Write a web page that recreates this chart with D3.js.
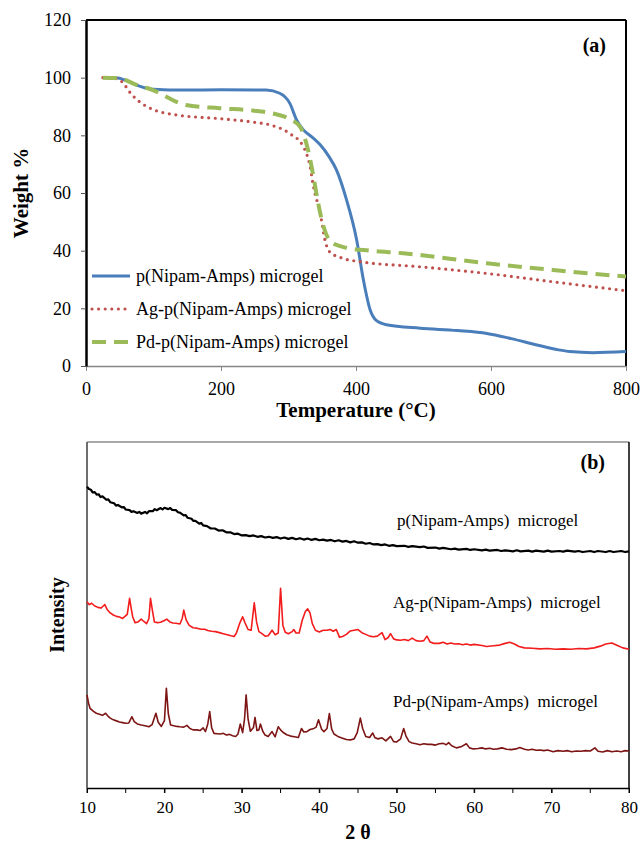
<!DOCTYPE html>
<html>
<head>
<meta charset="utf-8">
<script src="https://cdn.jsdelivr.net/npm/d3@7"></script>
<style>
  html, body { margin: 0; padding: 0; background: #fff; }
  svg { display: block; font-family: "Liberation Serif", "Times New Roman", serif; }
</style>
</head>
<body>
<svg id="fig" width="642" height="843"></svg>
<script>
// ---- (a) TGA: temperature (°C) vs weight % ----
const tgaTicksX = [0, 200, 400, 600, 800];
const tgaTicksY = [0, 20, 40, 60, 80, 100, 120];
const tgaNames = ["p(Nipam-Amps) microgel", "Ag-p(Nipam-Amps) microgel", "Pd-p(Nipam-Amps) microgel"];

const tgaPlain = [[25,100],[44,100],[60,99],[74,97.5],[99,96],[148,95.7],[200,95.8],[267,95.7],[287,94.6],[302,91.1],[312,85.3],[322,81.9],[335,79.4],[347,76.7],[360,72.6],[371,68],[386,57.6],[401,43.7],[411,29.8],[421,19.4],[430,15.8],[445,14.3],[495,13.1],[550,12.3],[594,11.3],[630,9.5],[668,7.3],[700,5.6],[717,5],[751,4.6],[800,5]];
const tgaAg = [[25,100],[44,99.7],[55,98.2],[64,95.2],[79,91.7],[99,89],[133,87.1],[198,85.8],[247,84.6],[273,83.6],[302,80.6],[322,76.1],[332,69.1],[337,62.2],[347,53],[354,43.7],[361,39.6],[381,37.3],[406,36.2],[495,34.4],[594,32.1],[692,29.2],[800,26.1]];
const tgaPd = [[25,100],[49,99.8],[75,97.5],[99,95.7],[119,93.4],[135,91.5],[148,90.5],[198,89.4],[247,88.6],[273,87.8],[302,85.6],[317,83],[329,74.9],[337,65.7],[344,56.4],[352,48.3],[364,42.8],[386,41],[420,40],[470,39.1],[594,35.6],[692,33.3],[800,31]];

// ---- (b) XRD: 2θ vs intensity (arbitrary units, traces offset) ----
const xrdTicks = [10, 20, 30, 40, 50, 60, 70, 80];
const xrdMinor = [10, 15, 20, 25, 30, 35, 40, 45, 50, 55, 60, 65, 70, 75, 80];
const xrdNames = ["p(Nipam-Amps)  microgel", "Ag-p(Nipam-Amps)  microgel", "Pd-p(Nipam-Amps)  microgel"];

const xrdPlain = [[10,87.1],[10.25,86.4],[10.5,86.2],[10.75,85.4],[11,85.5],[11.25,84.8],[11.5,84.9],[11.75,84.1],[12,84.3],[12.5,83.3],[12.75,83.4],[13,82.6],[13.5,82.3],[13.75,81.6],[14,81.8],[14.5,81.1],[14.75,81.2],[15,80.5],[15.5,80.3],[15.75,79.8],[16,80.0],[16.5,79.5],[16.75,79.8],[17,79.3],[17.5,79.8],[17.75,79.4],[18,80.0],[18.5,80.0],[18.75,80.6],[19,80.3],[19.5,80.9],[19.75,80.5],[20,81.0],[20.5,80.6],[20.75,80.9],[21,80.4],[21.5,80.3],[21.75,79.7],[22,79.6],[22.5,78.8],[22.75,78.9],[23,78.1],[23.5,77.8],[23.75,77.2],[24,77.2],[24.5,76.4],[24.75,76.6],[25,75.9],[25.5,75.7],[26,75.0],[26.5,75.0],[27,74.4],[27.5,74.5],[28,73.9],[28.5,73.9],[29,73.4],[29.5,73.5],[30,73.0],[30.5,73.1],[31,72.8],[31.5,73.0],[32,72.6],[32.5,72.8],[33,72.4],[33.5,72.6],[34,72.3],[34.5,72.5],[35,72.1],[35.5,72.4],[36,72.0],[36.5,72.3],[37,71.9],[37.5,72.2],[38,71.8],[38.5,72.1],[39,71.7],[39.5,72.0],[40,71.6],[40.5,71.8],[41,71.5],[41.5,71.7],[42,71.3],[42.5,71.6],[43,71.2],[43.5,71.4],[44,71.0],[44.5,71.3],[45,70.9],[45.5,71.0],[46,70.6],[46.5,70.8],[47,70.4],[47.5,70.5],[48,70.2],[48.5,70.4],[49,70.0],[49.5,70.2],[50,69.9],[51,70.0],[51.5,69.7],[52,69.9],[53,69.6],[53.5,69.8],[54,69.4],[55,69.5],[55.5,69.2],[56,69.4],[57,69.0],[57.5,69.2],[58,68.9],[59,69.1],[59.5,68.8],[60,69.0],[61,68.7],[61.5,68.9],[62,68.6],[63,68.8],[63.5,68.5],[64,68.7],[65,68.4],[65.5,68.7],[66,68.4],[67,68.6],[67.5,68.3],[68,68.6],[69,68.3],[69.5,68.6],[70,68.3],[71,68.5],[71.5,68.3],[72,68.6],[73,68.3],[73.5,68.5],[74,68.2],[75,68.5],[75.5,68.2],[76,68.5],[77,68.2],[77.5,68.5],[78,68.2],[79,68.5],[79.5,68.2],[80,68.4]];

const xrdAg = [[10.0,53.8],[10.3,53.0],[10.6,53.4],[11.0,52.6],[11.4,52.2],[11.8,52.0],[12.1,52.6],[12.3,53.0],[12.6,51.6],[13.0,50.6],[13.4,50.0],[13.8,49.6],[14.2,49.4],[14.6,49.0],[14.9,49.6],[15.2,50.2],[15.5,54.8],[15.7,52.0],[15.9,49.5],[16.2,47.8],[16.6,48.0],[17.0,48.8],[17.3,48.2],[17.7,47.5],[18.0,49.0],[18.2,54.8],[18.4,52.0],[18.7,48.0],[19.1,47.8],[19.5,47.9],[20.0,48.4],[20.3,48.8],[20.7,48.0],[21.1,47.7],[21.5,47.6],[22.0,47.4],[22.3,49.0],[22.5,51.4],[22.8,48.6],[23.2,47.0],[23.7,46.3],[24.2,46.2],[24.7,45.9],[25.2,45.9],[25.6,45.5],[26.1,45.3],[26.6,45.2],[27.1,44.9],[27.6,44.6],[28.1,44.3],[28.6,44.0],[29.0,43.8],[29.3,44.8],[29.7,47.5],[30.1,49.5],[30.4,47.8],[30.8,45.8],[31.2,45.6],[31.6,53.5],[31.9,48.0],[32.2,45.2],[32.6,44.6],[33.0,43.9],[33.4,44.0],[33.9,45.6],[34.3,44.3],[34.7,44.8],[35.0,57.7],[35.3,47.0],[35.6,45.0],[36.0,44.6],[36.5,45.2],[36.7,45.8],[37.0,44.8],[37.4,44.8],[37.8,48.5],[38.2,51.0],[38.5,51.8],[38.8,50.6],[39.1,47.5],[39.5,45.6],[40.0,45.1],[40.5,45.6],[41.0,45.6],[41.4,45.8],[41.8,45.3],[42.2,45.8],[42.6,43.6],[43.0,43.8],[43.5,44.4],[44.0,45.4],[44.5,45.6],[45.0,45.8],[45.5,44.9],[46.0,44.4],[46.5,43.9],[47.0,43.7],[47.5,43.9],[48.1,44.9],[48.5,42.9],[48.9,43.5],[49.2,44.6],[49.6,43.1],[50.0,42.8],[50.5,42.7],[51.0,42.9],[51.5,42.6],[52.0,43.3],[52.5,42.6],[53.0,42.4],[53.5,42.6],[53.9,43.9],[54.3,42.2],[54.8,41.8],[55.5,41.8],[56.0,42.1],[56.5,41.6],[57.0,41.9],[57.5,41.6],[58.0,41.7],[58.5,41.4],[59.0,41.6],[59.5,41.3],[60.0,41.5],[61.0,41.2],[61.6,40.9],[62.5,41.1],[63.3,41.3],[64.0,41.8],[64.6,42.1],[65.2,41.6],[65.8,40.9],[66.5,40.5],[67.5,40.4],[68.5,40.2],[69.5,40.3],[70.5,40.1],[71.5,40.2],[72.5,40.1],[73.5,40.3],[74.5,40.2],[75.5,40.5],[76.3,41.0],[77.0,41.6],[77.8,41.9],[78.5,41.2],[79.2,40.5],[80.0,40.1]];

const xrdPd = [[10.0,26.9],[10.2,24.5],[10.4,23.0],[10.8,22.2],[11.2,21.6],[11.6,21.3],[12.0,21.0],[12.4,21.6],[12.7,20.8],[13.0,20.2],[13.4,19.7],[13.8,19.4],[14.2,19.1],[14.6,18.9],[15.0,18.7],[15.4,18.8],[15.8,20.6],[16.1,19.2],[16.5,18.5],[17.0,18.2],[17.5,18.0],[18.0,17.7],[18.4,18.3],[18.9,21.6],[19.2,19.0],[19.6,17.8],[20.0,19.5],[20.25,28.8],[20.5,21.5],[20.8,18.2],[21.2,18.0],[21.6,17.8],[22.0,17.7],[22.5,17.6],[22.9,18.1],[23.3,17.2],[23.7,16.8],[24.2,16.8],[24.6,16.6],[25.0,17.4],[25.3,16.3],[25.6,18.5],[25.85,22.1],[26.1,17.4],[26.4,15.8],[26.8,15.7],[27.2,15.6],[27.6,15.8],[28.0,15.3],[28.4,15.5],[28.8,15.1],[29.2,14.9],[29.5,15.6],[29.8,18.5],[30.1,16.0],[30.35,20.0],[30.55,26.9],[30.8,20.0],[31.1,16.4],[31.5,17.5],[31.7,20.4],[31.95,16.6],[32.2,16.8],[32.4,18.5],[32.7,16.4],[33.0,15.3],[33.4,14.9],[33.9,16.3],[34.3,14.8],[34.7,17.7],[35.0,16.8],[35.3,16.1],[35.8,15.4],[36.3,15.0],[36.8,14.8],[37.3,14.6],[37.7,17.2],[38.0,16.2],[38.4,16.3],[38.8,16.9],[39.2,17.1],[39.6,17.6],[39.9,19.7],[40.3,17.0],[40.6,16.3],[41.0,17.2],[41.3,21.5],[41.6,17.0],[41.9,15.6],[42.4,14.9],[43.0,14.4],[43.5,14.0],[44.0,13.9],[44.5,14.2],[44.9,16.0],[45.3,20.2],[45.6,17.2],[46.0,14.9],[46.5,14.6],[46.9,15.9],[47.2,14.5],[47.6,14.2],[48.1,14.5],[48.6,13.6],[49.2,14.9],[49.6,13.4],[50.0,13.3],[50.5,14.2],[50.9,17.2],[51.2,15.0],[51.6,13.4],[52.0,13.0],[52.5,12.8],[53.0,12.5],[53.5,12.8],[54.0,12.6],[54.5,12.6],[55.0,12.4],[55.5,12.8],[56.0,12.9],[56.4,12.5],[56.7,13.1],[57.1,12.2],[57.7,11.6],[58.3,11.9],[59.0,12.8],[59.4,11.6],[59.9,11.3],[60.5,11.4],[61.0,11.6],[61.5,11.3],[62.0,11.5],[62.5,11.2],[63.0,11.3],[63.6,11.6],[64.2,11.2],[64.8,11.1],[65.4,11.3],[65.9,11.7],[66.5,11.2],[67.0,11.0],[67.5,11.2],[68.0,10.9],[68.5,11.0],[69.0,10.8],[69.5,11.0],[70.2,10.5],[70.8,10.8],[71.5,10.6],[72.0,10.8],[72.6,10.5],[73.2,10.7],[73.8,10.6],[74.4,10.8],[75.0,10.7],[75.6,11.6],[76.0,10.6],[76.6,10.4],[77.2,10.8],[77.8,10.5],[78.4,10.7],[79.0,10.5],[79.5,10.8],[80.0,10.7]];

const svg = d3.select("#fig");
const serif = '"Liberation Serif", "Times New Roman", serif';

// =================== panel (a) ===================
const A = { left: 86, right: 626, top: 20, bottom: 366 };
const xA = d3.scaleLinear().domain([0, 800]).range([A.left, A.right]);
const yA = d3.scaleLinear().domain([0, 120]).range([A.bottom, A.top]);

const gA = svg.append("g");

// frame: top and right borders
gA.append("line").attr("x1", A.left).attr("x2", A.right).attr("y1", A.top).attr("y2", A.top)
  .attr("stroke", "#000").attr("stroke-width", 2);
gA.append("line").attr("x1", A.right).attr("x2", A.right).attr("y1", A.top).attr("y2", A.bottom)
  .attr("stroke", "#000").attr("stroke-width", 2);

// x axis
const axAx = gA.append("g").attr("transform", `translate(0,${A.bottom})`)
  .call(d3.axisBottom(xA).tickValues(tgaTicksX).tickSize(5).tickPadding(11).tickSizeOuter(0));
axAx.select(".domain").attr("stroke", "#868686").attr("stroke-width", 1.5);
axAx.selectAll(".tick line").attr("stroke", "#868686").attr("stroke-width", 1);
axAx.selectAll("text").attr("font-family", serif).attr("font-size", 18).attr("fill", "#000");

// y axis
const axAy = gA.append("g").attr("transform", `translate(${A.left},0)`)
  .call(d3.axisLeft(yA).tickValues(tgaTicksY).tickSize(5).tickPadding(10).tickSizeOuter(0));
axAy.select(".domain").attr("stroke", "#000").attr("stroke-width", 2.5);
axAy.selectAll(".tick line").attr("stroke", "#555").attr("stroke-width", 1);
axAy.selectAll("text").attr("font-family", serif).attr("font-size", 18).attr("fill", "#000");

const tgaLine = d3.line().x(d => xA(d[0])).y(d => yA(d[1])).curve(d3.curveMonotoneX);
const tgaStyles = [
  { data: tgaPlain, color: "#4A7EBB", width: 3, dash: null, cap: "butt" },
  { data: tgaAg, color: "#C0504D", width: 3.2, dash: "0 6.6", cap: "round" },
  { data: tgaPd, color: "#9BBB59", width: 4, dash: "14 8", cap: "butt" }
];
tgaStyles.forEach(s => {
  gA.append("path").datum(s.data).attr("d", tgaLine)
    .attr("fill", "none").attr("stroke", s.color).attr("stroke-width", s.width)
    .attr("stroke-dasharray", s.dash).attr("stroke-linecap", s.cap).attr("stroke-linejoin", "round");
});

// legend
const legY = [276, 309, 342];
tgaStyles.forEach((s, i) => {
  gA.append("line").attr("x1", 92).attr("x2", 130).attr("y1", legY[i]).attr("y2", legY[i])
    .attr("stroke", s.color).attr("stroke-width", s.width)
    .attr("stroke-dasharray", s.dash).attr("stroke-linecap", s.cap);
  gA.append("text").attr("x", 136).attr("y", legY[i] + 6)
    .attr("font-family", serif).attr("font-size", 18).attr("fill", "#000").text(tgaNames[i]);
});

gA.append("text").attr("x", 606).attr("y", 52).attr("text-anchor", "end")
  .attr("font-family", serif).attr("font-size", 20).attr("font-weight", "bold").text("(a)");

gA.append("text").attr("transform", `translate(28,${(A.top + A.bottom) / 2}) rotate(-90)`)
  .attr("text-anchor", "middle").attr("font-family", serif).attr("font-size", 21)
  .attr("font-weight", "bold").text("Weight %");
gA.append("text").attr("x", (A.left + A.right) / 2).attr("y", 417).attr("text-anchor", "middle")
  .attr("font-family", serif).attr("font-size", 21).attr("font-weight", "bold").text("Temperature (°C)");

// =================== panel (b) ===================
const B = { left: 87, right: 629, top: 442, bottom: 788 };
const xB = d3.scaleLinear().domain([10, 80]).range([B.left, B.right]);
const yB = d3.scaleLinear().domain([0, 100]).range([B.bottom, B.top]);

const gB = svg.append("g");

// frame
gB.append("line").attr("x1", B.left).attr("x2", B.right).attr("y1", B.top).attr("y2", B.top)
  .attr("stroke", "#555").attr("stroke-width", 1.2);
gB.append("line").attr("x1", B.left).attr("x2", B.left).attr("y1", B.top).attr("y2", B.bottom)
  .attr("stroke", "#6e6e6e").attr("stroke-width", 2);
gB.append("line").attr("x1", B.right).attr("x2", B.right).attr("y1", B.top).attr("y2", B.bottom)
  .attr("stroke", "#000").attr("stroke-width", 1.5);

// minor ticks every 5°
gB.selectAll("line.minor").data(xrdMinor).join("line").attr("class", "minor")
  .attr("x1", d => xB(d)).attr("x2", d => xB(d)).attr("y1", B.bottom).attr("y2", B.bottom + 5)
  .attr("stroke", "#000").attr("stroke-width", 1);

const axBx = gB.append("g").attr("transform", `translate(0,${B.bottom})`)
  .call(d3.axisBottom(xB).tickValues(xrdTicks).tickSize(5).tickPadding(8).tickSizeOuter(0));
axBx.select(".domain").attr("stroke", "#000").attr("stroke-width", 1.5);
axBx.selectAll(".tick line").attr("stroke", "#000").attr("stroke-width", 1);
axBx.selectAll("text").attr("font-family", serif).attr("font-size", 17).attr("fill", "#000");

const xrdLine = d3.line().x(d => xB(d[0])).y(d => yB(d[1]));
const xrdStyles = [
  { data: xrdPlain, color: "#000000", width: 2.2 },
  { data: xrdAg, color: "#F21C1C", width: 1.6 },
  { data: xrdPd, color: "#7D1515", width: 1.6 }
];
xrdStyles.forEach(s => {
  gB.append("path").datum(s.data).attr("d", xrdLine)
    .attr("fill", "none").attr("stroke", s.color).attr("stroke-width", s.width)
    .attr("stroke-linejoin", "round");
});

const labelPos = [[397, 526], [393, 608], [393, 707]];
xrdNames.forEach((t, i) => {
  gB.append("text").attr("x", labelPos[i][0]).attr("y", labelPos[i][1])
    .attr("font-family", serif).attr("font-size", 17).attr("fill", "#000")
    .attr("xml:space", "preserve").style("white-space", "pre").text(t);
});

gB.append("text").attr("x", 605).attr("y", 469).attr("text-anchor", "end")
  .attr("font-family", serif).attr("font-size", 20).attr("font-weight", "bold").text("(b)");

gB.append("text").attr("transform", `translate(64,${(B.top + B.bottom) / 2}) rotate(-90)`)
  .attr("text-anchor", "middle").attr("font-family", serif).attr("font-size", 20)
  .attr("font-weight", "bold").text("Intensity");
gB.append("text").attr("x", (B.left + B.right) / 2).attr("y", 839).attr("text-anchor", "middle")
  .attr("font-family", serif).attr("font-size", 20).attr("font-weight", "bold")
  .attr("xml:space", "preserve").style("white-space", "pre").text("2 θ");
</script>
</body>
</html>
